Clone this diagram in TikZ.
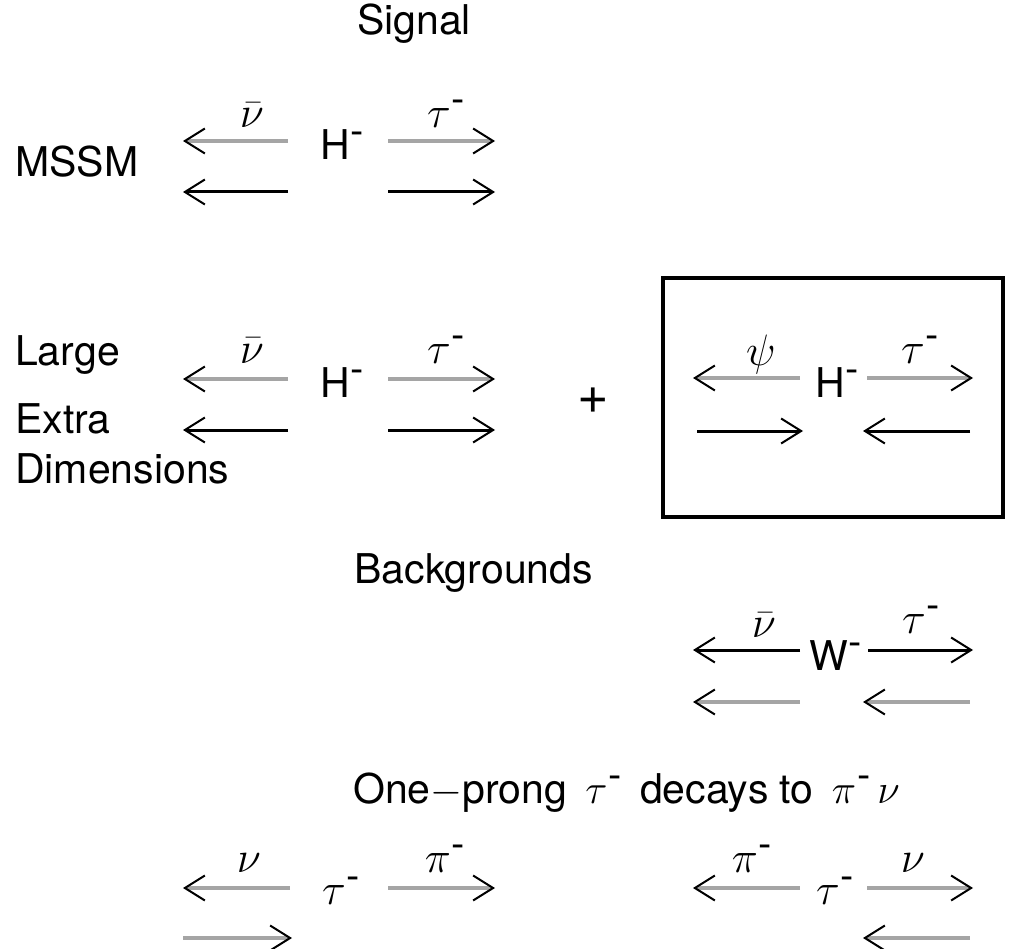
\RequirePackage{fix-cm}
\documentclass[tikz,border=0pt]{standalone}
\usepackage{fontspec}
\setmainfont{TeX Gyre Heros}
\usetikzlibrary{arrows.meta}
\definecolor{lgray}{RGB}{165,165,165}
\newcommand{\smn}{\kern1pt\raisebox{15pt}{\fontsize{40}{40}\selectfont -}}
\newcommand{\msmn}{{\mbox{\smn}}}
\tikzset{
  txt/.style={font=\fontsize{41}{49}\selectfont, inner sep=0pt},
  lab/.style={font=\fontsize{44}{52}\selectfont, inner sep=0pt, anchor=base},
  tipped/.style={-{Straight Barb[length=20pt,width=25pt,line width=2pt,color=black]}},
  garrow/.style={tipped, draw=lgray, line width=4pt},
  barrow/.style={tipped, draw=black, line width=3pt},
  framebox/.style={draw=black, line width=3.5pt}
}
\begin{document}
\begin{tikzpicture}[x=1pt,y=-1pt]
\useasboundingbox (0,0) rectangle (1011,949);

% titles
\node[txt,anchor=base] (signal) at (414,35) {Signal};
\node[txt,anchor=base west] (bkg) at (354,583) {Backgrounds};
\node[txt,anchor=base west] (onep) at (353,803) {One$-$prong \,$\tau\msmn$ \,decays to \,$\pi\msmn\,\nu$};

% ---------- MSSM row ----------
\node[txt,anchor=base west] (mssm) at (15,177) {MSSM};
\node[txt,anchor=base west] (h1) at (320,160) {H\smn};
\node[lab] (nu1) at (252,128) {$\bar\nu$};
\node[lab] (tau1) at (446,128) {$\tau\msmn$};
\coordinate (a1s) at (288,141); \coordinate (a1e) at (183,141);
\coordinate (b1s) at (388,141); \coordinate (b1e) at (495,141);
\coordinate (c1s) at (288,192); \coordinate (c1e) at (183,192);
\coordinate (d1s) at (388,192); \coordinate (d1e) at (495,192);
\draw[garrow] (a1s) -- (a1e);
\draw[garrow] (b1s) -- (b1e);
\draw[barrow] (c1s) -- (c1e);
\draw[barrow] (d1s) -- (d1e);

% ---------- LED row ----------
\node[txt,anchor=base west] (large) at (15,365) {Large};
\node[txt,anchor=base west] (extra) at (15,433) {Extra};
\node[txt,anchor=base west] (dims) at (15,483) {Dimensions};
\node[txt,anchor=base west] (h2) at (320,397) {H\smn};
\node[lab] (nu2) at (252,363) {$\bar\nu$};
\node[lab] (tau2) at (446,363) {$\tau\msmn$};
\coordinate (a2s) at (288,379); \coordinate (a2e) at (183,379);
\coordinate (b2s) at (388,379); \coordinate (b2e) at (495,379);
\coordinate (c2s) at (288,430); \coordinate (c2e) at (183,430);
\coordinate (d2s) at (388,430); \coordinate (d2e) at (495,430);
\draw[garrow] (a2s) -- (a2e);
\draw[garrow] (b2s) -- (b2e);
\draw[barrow] (c2s) -- (c2e);
\draw[barrow] (d2s) -- (d2e);

\node[font=\fontsize{54}{60}\selectfont, inner sep=0pt] (plus) at (593,401) {+};

% boxed alternative
\coordinate (bx1) at (663,278); \coordinate (bx2) at (1003,517);
\draw[framebox] (bx1) rectangle (bx2);
\node[txt,anchor=base west] (h3) at (815,397) {H\smn};
\node[lab] (psi3) at (761,365) {$\psi$};
\node[lab] (tau3) at (920,363) {$\tau\msmn$};
\coordinate (a3s) at (800,378); \coordinate (a3e) at (693,378);
\coordinate (b3s) at (867,378); \coordinate (b3e) at (973,378);
\coordinate (c3s) at (697,431); \coordinate (c3e) at (803,431);
\coordinate (d3s) at (970,431); \coordinate (d3e) at (863,431);
\draw[garrow] (a3s) -- (a3e);
\draw[garrow] (b3s) -- (b3e);
\draw[barrow] (c3s) -- (c3e);
\draw[barrow] (d3s) -- (d3e);

% ---------- W background ----------
\node[txt,anchor=base west] (w4) at (809,670) {W\smn};
\node[lab] (nu4) at (764,637) {$\bar\nu$};
\node[lab] (tau4) at (921,633) {$\tau\msmn$};
\coordinate (a4s) at (800,650); \coordinate (a4e) at (693,650);
\coordinate (b4s) at (868,650); \coordinate (b4e) at (973,650);
\coordinate (c4s) at (800,702); \coordinate (c4e) at (693,702);
\coordinate (d4s) at (970,702); \coordinate (d4e) at (863,702);
\draw[barrow] (a4s) -- (a4e);
\draw[barrow] (b4s) -- (b4e);
\draw[garrow] (c4s) -- (c4e);
\draw[garrow] (d4s) -- (d4e);

% ---------- tau decays ----------
\node[lab] (tau5) at (341,904) {$\tau\msmn$};
\node[lab] (nu5) at (249,872) {$\nu$};
\node[lab] (pi5) at (445,872) {$\pi\msmn$};
\coordinate (a5s) at (290,888); \coordinate (a5e) at (183,888);
\coordinate (b5s) at (388,888); \coordinate (b5e) at (495,888);
\coordinate (c5s) at (183,938); \coordinate (c5e) at (292,938);
\draw[garrow] (a5s) -- (a5e);
\draw[garrow] (b5s) -- (b5e);
\draw[garrow] (c5s) -- (c5e);

\node[lab] (tau6) at (835,904) {$\tau\msmn$};
\node[lab] (pi6) at (752,872) {$\pi\msmn$};
\node[lab] (nu6) at (913,872) {$\nu$};
\coordinate (a6s) at (800,888); \coordinate (a6e) at (693,888);
\coordinate (b6s) at (867,888); \coordinate (b6e) at (973,888);
\coordinate (d6s) at (970,938); \coordinate (d6e) at (863,938);
\draw[garrow] (a6s) -- (a6e);
\draw[garrow] (b6s) -- (b6e);
\draw[garrow] (d6s) -- (d6e);
\end{tikzpicture}
\end{document}
